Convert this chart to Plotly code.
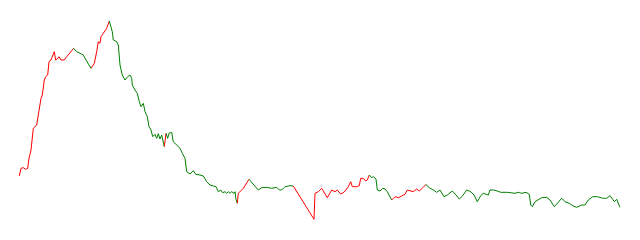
import plotly.graph_objects as go

# time positions and values
x = [19.3, 21, 23.3, 25.7, 27.7, 29, 31, 33.3, 36.7, 38.3, 41, 42.3, 44.3, 45.7, 47.7, 49, 51, 54.3, 55.7, 57.7,
     59, 61, 64.3, 66.7, 70, 73.7,
     76.7, 80, 83.3, 86, 88.3, 91,
     92.7, 94.3, 96.7, 98.3, 100, 101, 103.3, 106.7, 109.3,
     112.3, 113.3, 116.7, 118.3, 120, 122.3, 125, 127.7, 130, 131.7, 132.3, 135, 137.3, 139.3, 141, 143.3, 145,
     147.3, 149, 151, 152.7, 155, 156.7, 158.3, 160, 161.7, 163.3, 164.3,
     166,
     167.7, 169, 171.7, 173.3, 176.7, 180, 182.3, 185, 186.7, 190, 193.3, 195.7, 200, 203.3, 206.7, 210, 213.3,
     216, 218.3, 220.7, 222.7, 225, 226.7, 228.3, 230, 231.7, 234, 235, 236, 237.3,
     238.3, 243.3, 249,
     253.3, 258.3, 261.7, 266.7, 271.7, 276.7, 279.3, 281.7, 285, 290, 293.3,
     314, 315, 318.3, 321.7, 325, 327.3, 331.7, 335, 337.3, 340.7, 344, 348.3, 350.7, 352.3, 356.7, 359.3,
     360.7, 363.3, 365.7, 367.3, 369.3,
     371.7, 373.3, 376, 377.3, 380, 382.7, 385, 387.3, 390, 391.7,
     395, 398.3, 401.7, 405, 407.3, 410, 413.3, 416.7, 419.3, 422.7, 426,
     429.3, 433.3, 436.7, 440, 444, 447.3, 452.3, 456, 459.3, 462.7, 466.7, 470.7, 474, 477.3, 480.7, 483.3,
     486, 488.3, 490, 493.3, 497.3, 500.7, 507.3, 511.7, 515, 518.3, 521.7, 526, 529.3, 530.7, 532.3, 535,
     538.3, 541.7, 546.7, 550, 554.3, 558.3, 561.7, 565, 569.3, 573.3, 576.7, 581.7, 585, 588.3, 592.7, 597.3,
     603.3, 606.7, 610, 612.7, 614.3, 616.7, 617.7, 620]

values = [64, 71.7, 72.3, 70.7, 71.7, 81.7, 90, 111.7, 115, 126.7, 141.7, 145, 160, 163.3, 165, 178.3, 180, 188.3, 180, 181.7,
          183.3, 180, 180, 183.3, 187.7, 191.7,
          188.3, 186.7, 185, 180, 175.7, 171.7,
          175, 176.7, 188.3, 198.3, 196.7, 203.3, 206.7, 211.7, 219,
          208.3, 200, 198.3, 195, 175, 165, 160, 163.3, 165, 161.7, 155, 150, 146.7, 138.3, 133.3, 136.7, 128.3,
          123.3, 113.3, 110, 103.3, 105.7, 101.7, 106.3, 101, 105, 99, 93.3,
          106.7,
          101.7, 106.7, 107.7, 98.3, 95, 91.7, 86.7, 81.7, 68.3, 66, 69.3, 65.7, 65, 64, 58.3, 55, 54,
          53.3, 48.3, 50, 47.3, 48.3, 46.7, 48.3, 46.7, 48.3, 46.7, 48.3, 40.7, 36.7,
          46.7, 51.7, 60.7,
          56, 50, 52.3, 52.7, 51.7, 52.7, 50, 50, 53.3, 54.3, 54,
          20.7, 46.7, 48.3, 51.7, 46.7, 42.3, 50, 48.3, 50, 46, 47.7, 53.3, 58.3, 53.3, 53.3, 54.3,
          61.7, 61.7, 59, 60, 65,
          62.3, 63.3, 61, 50, 49, 51.7, 51, 48.3, 43.3, 40,
          43.3, 42.3, 44.3, 45.7, 50, 49, 48.3, 51, 49, 52.3, 55.5,
          52.3, 50, 47.7, 50, 43.3, 45, 49, 45, 41, 44.3, 50, 48.3, 45, 38.3, 44.3, 46.7,
          45.7, 45, 50, 50, 49, 47.7, 47.7, 46.7, 46.7, 47.7, 46.7, 47.7, 45.7, 35, 33.3, 38.3,
          40.7, 42.3, 42.7, 40, 33.3, 38.3, 41.7, 38.3, 36.7, 34, 32.7, 35, 35, 40, 43.3, 43.3,
          41.7, 41.7, 44.3, 40.7, 38.3, 40.7, 38.3, 32.7]

# trend regime changes (x position where trend flips) and the trend of each regime
trend_breaks = [73.7, 91, 109.3, 164.3, 166, 237.3, 249, 293.3, 369.3, 391.7, 426]
trends = ["up", "down", "up", "down", "up", "down", "up", "down", "up", "down", "up", "down"]

trend_colors = {"up": "red", "down": "green"}

fig = go.Figure()
bounds = [0] + [x.index(b) for b in trend_breaks] + [len(x) - 1]
for i, tr in enumerate(trends):
    s, e = bounds[i], bounds[i + 1]
    fig.add_trace(go.Scatter(
        x=x[s:e + 1], y=values[s:e + 1], mode="lines",
        line=dict(color=trend_colors[tr], width=1),
        hoverinfo="skip", showlegend=False,
    ))

fig.update_layout(
    width=640, height=240,
    margin=dict(l=0, r=0, t=0, b=0),
    paper_bgcolor="white", plot_bgcolor="white",
    xaxis=dict(visible=False, range=[0, 640]),
    yaxis=dict(visible=False, range=[0, 240]),
    showlegend=False,
)

fig.write_html("out.html")
